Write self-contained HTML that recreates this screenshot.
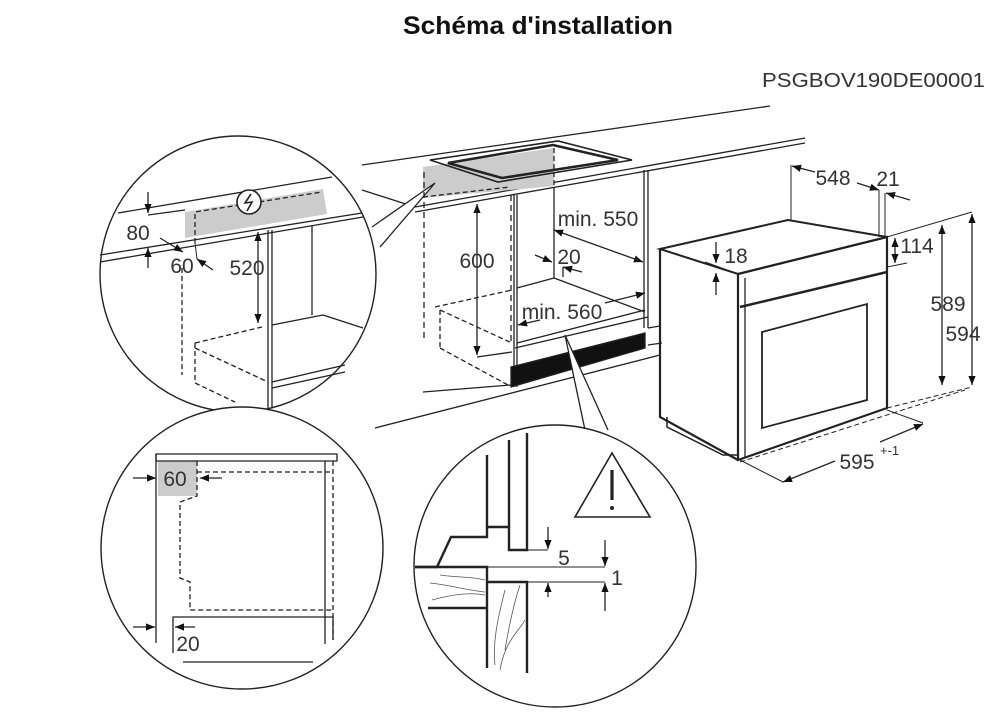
<!DOCTYPE html>
<html><head><meta charset="utf-8"><style>
html,body{margin:0;padding:0;background:#fff;}
svg{display:block;}
text{font-family:"Liberation Sans",Arial,sans-serif;fill:#333;}
</style></head><body>
<svg width="1000" height="721" viewBox="0 0 1000 721" xmlns="http://www.w3.org/2000/svg">
<defs>
<marker id="a" viewBox="0 0 10 10" refX="10" refY="5" markerWidth="7" markerHeight="7" orient="auto-start-reverse"><path d="M0,1 L10,5 L0,9 z" fill="#111"/></marker>
</defs>
<text x="403" y="34" font-size="25" font-weight="bold" textLength="270" lengthAdjust="spacingAndGlyphs" style="fill:#111">Schéma d'installation</text>
<text x="762" y="87" font-size="20" textLength="223" lengthAdjust="spacingAndGlyphs" style="fill:#333">PSGBOV190DE00001</text>

<g stroke="#222" fill="none" stroke-width="1.3">
<!-- main counter -->
<line x1="362" y1="165" x2="770" y2="106"/>
<line x1="415" y1="207" x2="805" y2="138"/>
<line x1="415" y1="212" x2="805" y2="143"/>
<line x1="362" y1="190" x2="415" y2="207"/>
<polygon points="423,167 554,148 554,186 423,198" fill="#ccc" stroke="none"/>
<polygon points="430,160 558,141 632,160 498,182" stroke-width="1.6"/>
<polygon points="448,163 553,145 618,160 502,178" stroke-width="2.5"/>
<line x1="423" y1="197" x2="510" y2="187" stroke-dasharray="5,3"/>
<line x1="554" y1="148" x2="554" y2="186" stroke-dasharray="5,3"/>
<!-- callout wedge 1 -->
<polyline points="372,227 435,183 380,247" fill="#fff"/>
<!-- cabinet -->
<line x1="424" y1="172" x2="424" y2="338" stroke-dasharray="6,4"/>
<line x1="511" y1="195" x2="511" y2="342" stroke-dasharray="6,4"/>
<line x1="514" y1="195" x2="514" y2="387"/>
<line x1="517" y1="195" x2="517" y2="387"/>
<line x1="554" y1="188" x2="554" y2="278"/>
<line x1="644" y1="170" x2="644" y2="328"/>
<line x1="648" y1="170" x2="648" y2="328"/>
<line x1="517" y1="288" x2="554" y2="278"/>
<line x1="554" y1="278" x2="645" y2="312"/>
<line x1="517" y1="343" x2="645" y2="310"/>
<line x1="515" y1="348" x2="648" y2="317"/>
<line x1="648" y1="328" x2="660" y2="326"/>
<line x1="648" y1="345" x2="662" y2="343"/>
<polygon points="511,367 645,333 645,348 511,387" fill="#111"/>
<line x1="423" y1="392" x2="511" y2="385"/>
<line x1="375" y1="428" x2="660" y2="355"/>
<g stroke-dasharray="5,3">
<line x1="435" y1="307" x2="512" y2="290"/>
<line x1="440" y1="310" x2="512" y2="343"/>
<line x1="440" y1="310" x2="440" y2="348"/>
<line x1="440" y1="348" x2="508" y2="385"/>
</g>
<line x1="477" y1="357" x2="512" y2="352"/>
<line x1="477" y1="204" x2="477" y2="355" marker-start="url(#a)" marker-end="url(#a)"/>
<line x1="554" y1="230" x2="643" y2="262" marker-start="url(#a)" marker-end="url(#a)"/>
<line x1="535" y1="255" x2="552" y2="262" marker-end="url(#a)"/>
<line x1="582" y1="272" x2="563" y2="267" marker-end="url(#a)"/>
<line x1="563" y1="267" x2="563" y2="277"/>
<line x1="540" y1="320" x2="518" y2="325" marker-end="url(#a)"/>
<line x1="605" y1="303" x2="645" y2="293" marker-end="url(#a)"/>
<!-- wedge 3 -->
<polyline points="585,430 565,335 608,430" fill="#fff"/>

<!-- oven -->
<polygon points="660,249 788,220 887,237 738,274" stroke-width="2"/>
<polyline points="660,249 660,417 738,460" stroke-width="2.2"/>
<polygon points="738,274 887,237 887,408 738,460" stroke-width="2.2"/>
<line x1="740" y1="307" x2="887" y2="272" stroke-width="2.5"/>
<line x1="745" y1="278" x2="745" y2="458"/>
<polygon points="762,332 867,304 867,400 762,428" stroke-width="1.8"/>
<polyline points="667,417 667,427 723,455 738,455" stroke-width="1.5"/>
<line x1="660" y1="249" x2="738" y2="274" stroke-width="1.2"/>
<!-- oven dims -->
<line x1="791" y1="165" x2="791" y2="220" stroke-width="1"/>
<line x1="879" y1="190" x2="879" y2="237" stroke-width="1"/>
<line x1="885" y1="193" x2="885" y2="237" stroke-width="1"/>
<line x1="815" y1="172" x2="792" y2="166" marker-end="url(#a)"/>
<line x1="857" y1="183" x2="879" y2="190" marker-end="url(#a)"/>
<line x1="910" y1="200" x2="886" y2="193" marker-end="url(#a)"/>
<line x1="716" y1="242" x2="716" y2="263" marker-end="url(#a)"/>
<line x1="716" y1="295" x2="716" y2="273" marker-end="url(#a)"/>
<line x1="705" y1="262" x2="738" y2="274" stroke-width="1"/>
<line x1="895" y1="238" x2="895" y2="263" marker-start="url(#a)" marker-end="url(#a)"/>
<line x1="887" y1="267" x2="907" y2="263" stroke-width="1"/>
<line x1="887" y1="237" x2="972" y2="212" stroke-width="1"/>
<line x1="942" y1="225" x2="942" y2="385" marker-start="url(#a)" marker-end="url(#a)"/>
<line x1="972" y1="214" x2="972" y2="385" marker-start="url(#a)" marker-end="url(#a)"/>
<line x1="887" y1="408" x2="972" y2="387" stroke-dasharray="5,3" stroke-width="1"/>
<line x1="740" y1="462" x2="965" y2="390" stroke-dasharray="5,3" stroke-width="1"/>
<line x1="887" y1="410" x2="923" y2="423" stroke-width="1"/>
<line x1="740" y1="460" x2="783" y2="482" stroke-width="1"/>
<line x1="835" y1="461" x2="783" y2="482" marker-end="url(#a)"/>
<line x1="880" y1="442" x2="923" y2="424" marker-end="url(#a)"/>

<!-- circle 1 -->
<circle cx="238" cy="274" r="138" fill="#fff" stroke-width="1.4"/>
<polygon points="185,212 323,189 327,214 185,238" fill="#ccc" stroke="none"/>
<line x1="118" y1="213" x2="332" y2="177"/>
<line x1="100" y1="255" x2="362" y2="213"/>
<line x1="100" y1="262" x2="363" y2="217"/>
<line x1="148" y1="215" x2="185" y2="210"/>
<polyline points="195,243 195,212 322,192" stroke-dasharray="5,3"/>
<circle cx="249" cy="202" r="12" fill="#fff" stroke-width="1.6"/>
<path d="M251,194 L245,203 L252,202 L247,211" stroke-width="1.6"/>
<line x1="148" y1="192" x2="148" y2="213" marker-end="url(#a)"/>
<line x1="148" y1="268" x2="148" y2="248" marker-end="url(#a)"/>
<line x1="160" y1="238" x2="183" y2="252" marker-end="url(#a)"/>
<line x1="213" y1="270" x2="197" y2="259" marker-end="url(#a)"/>
<line x1="197" y1="259" x2="195" y2="243" stroke-width="1"/>
<line x1="258" y1="232" x2="258" y2="323" marker-start="url(#a)" marker-end="url(#a)"/>
<line x1="268" y1="230" x2="268" y2="408"/>
<line x1="272" y1="230" x2="272" y2="408"/>
<line x1="312" y1="225" x2="312" y2="315"/>
<line x1="272" y1="325" x2="323" y2="315"/>
<line x1="323" y1="315" x2="363" y2="328"/>
<line x1="272" y1="382" x2="345" y2="365"/>
<line x1="272" y1="388" x2="345" y2="372"/>
<g stroke-dasharray="5,3">
<line x1="182" y1="268" x2="182" y2="375"/>
<line x1="195" y1="343" x2="262" y2="327"/>
<line x1="195" y1="343" x2="195" y2="383"/>
<line x1="195" y1="348" x2="268" y2="382"/>
<line x1="195" y1="383" x2="235" y2="402"/>
</g>

<!-- circle 2 -->
<circle cx="242" cy="548" r="141" fill="#fff" stroke-width="1.4"/>
<rect x="158" y="461" width="39" height="35" fill="#ccc" stroke="none"/>
<polygon points="156,454 337,454 337,461 156,461"/>
<line x1="156" y1="454" x2="156" y2="643"/>
<line x1="325" y1="461" x2="325" y2="644"/>
<line x1="333" y1="461" x2="333" y2="640" stroke-dasharray="5,3"/>
<polyline points="197,472 333,472" stroke-dasharray="5,3"/>
<polyline points="197,461 197,496 180,502 180,578 190,582 190,610 333,610" stroke-dasharray="5,3"/>
<polyline points="173,653 173,617 333,617 333,640"/>
<line x1="183" y1="662" x2="313" y2="662"/>
<line x1="133" y1="478" x2="156" y2="478" marker-end="url(#a)"/>
<line x1="222" y1="478" x2="200" y2="478" marker-end="url(#a)"/>
<line x1="133" y1="627" x2="155" y2="627" marker-end="url(#a)"/>
<line x1="195" y1="627" x2="175" y2="627" marker-end="url(#a)"/>

<!-- circle 3 -->
<circle cx="555" cy="566" r="141" fill="#fff" stroke-width="1.4"/>
<g stroke-width="2.4">
<polyline points="487,455 487,527 509,527"/>
<polyline points="509,440 509,550 527,550 527,433"/>
<polyline points="415,567 437,567 451,537 487,537 487,527"/>
<polyline points="415,567 487,567 487,668"/>
<line x1="428" y1="608" x2="487" y2="608"/>
<polyline points="487,582 527,582 527,673"/>
<polygon points="612,453 575,517 650,517" stroke-width="1.6"/>
<line x1="612" y1="470" x2="612" y2="500" stroke-width="3.2"/>
<circle cx="612" cy="508" r="2" fill="#222" stroke="none"/>
</g>
<g stroke-width="0.8" stroke="#555">
<path d="M430,583 C450,585 465,590 485,592 M432,600 C450,595 470,592 485,595 M440,575 C460,578 470,576 485,580"/>
<path d="M495,665 C492,640 500,610 505,590 M505,650 C510,620 515,600 520,585 M500,670 C505,640 520,630 525,620"/>
</g>
<g stroke-width="1">
<line x1="528" y1="550" x2="548" y2="550"/>
<line x1="487" y1="567" x2="605" y2="567"/>
<line x1="527" y1="582" x2="605" y2="582"/>
</g>
<line x1="548" y1="527" x2="548" y2="549" marker-end="url(#a)"/>
<line x1="548" y1="597" x2="548" y2="583" marker-end="url(#a)"/>
<line x1="605" y1="540" x2="605" y2="566" marker-end="url(#a)"/>
<line x1="605" y1="611" x2="605" y2="583" marker-end="url(#a)"/>
</g>

<g font-size="21">
<text x="477" y="268" text-anchor="middle">600</text>
<text x="598" y="226" text-anchor="middle">min. 550</text>
<text x="569" y="264" text-anchor="middle">20</text>
<text x="562" y="319" text-anchor="middle">min. 560</text>
<text x="833" y="185" text-anchor="middle">548</text>
<text x="888" y="186" text-anchor="middle">21</text>
<text x="736" y="263" text-anchor="middle">18</text>
<text x="917" y="253" text-anchor="middle">114</text>
<text x="948" y="311" text-anchor="middle">589</text>
<text x="963" y="341" text-anchor="middle">594</text>
<text x="857" y="469" text-anchor="middle">595</text>
<text x="880" y="455" font-size="13">+-1</text>
<text x="138" y="240" text-anchor="middle">80</text>
<text x="182" y="273" text-anchor="middle">60</text>
<text x="247" y="275" text-anchor="middle">520</text>
<text x="175" y="486" text-anchor="middle">60</text>
<text x="188" y="651" text-anchor="middle">20</text>
<text x="564" y="565" text-anchor="middle">5</text>
<text x="617" y="585" text-anchor="middle">1</text>
</g>
</svg>
</body></html>
